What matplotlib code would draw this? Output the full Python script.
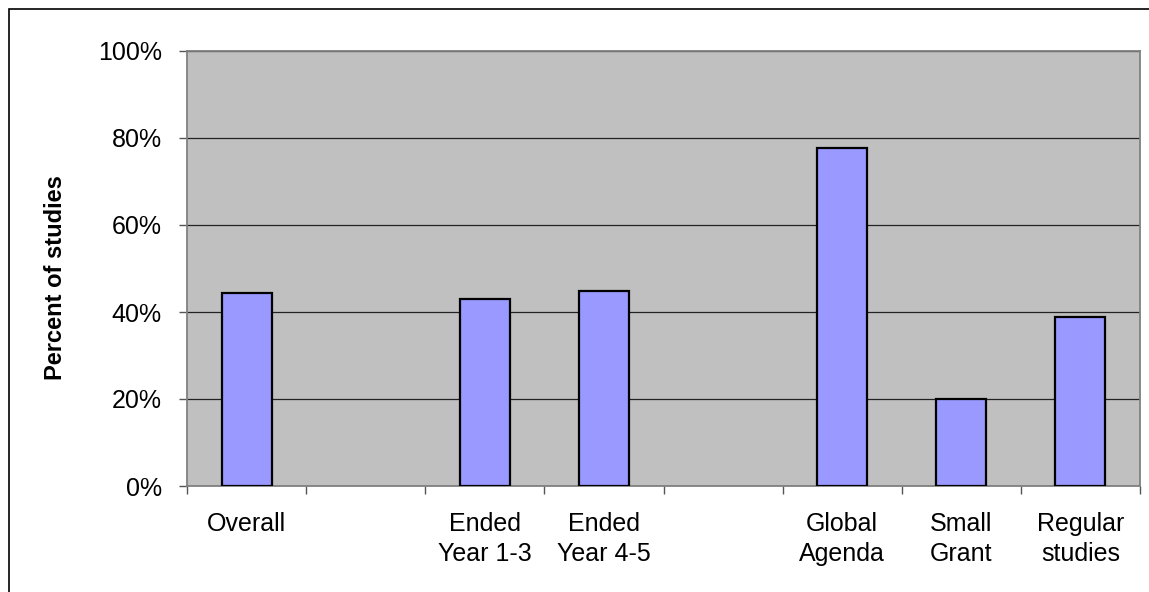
import matplotlib.pyplot as plt
import numpy as np
from matplotlib.patches import Rectangle
from matplotlib.ticker import FixedLocator, PercentFormatter

# categories (two empty slots act as spacers between groups)
categories = ['Overall', '', 'Ended\nYear 1-3', 'Ended\nYear 4-5', '',
              'Global\nAgenda', 'Small\nGrant', 'Regular\nstudies']
# percent of studies, None = no bar
values = [44.3, None, 42.9, 44.8, None, 77.8, 20.0, 38.9]
yticks = [0, 20, 40, 60, 80, 100]

plt.rcParams['font.family'] = ['Liberation Sans', 'DejaVu Sans']

W, H = 1149, 592
fig = plt.figure(figsize=(W / 100, H / 100), dpi=100)
fig.patch.set_facecolor('white')

# outer chart border (only left and top visible in the reference)
fig.patches.append(Rectangle((9 / W, -0.1), 1.2, 1 - 9 / H + 0.1,
                             transform=fig.transFigure, fill=False,
                             edgecolor='black', linewidth=1.2))

ax = fig.add_axes([187 / W, (H - 486) / H, (1140 - 187) / W, (486 - 51) / H])
ax.set_facecolor('#C0C0C0')

x = np.arange(len(categories))
for xi, v in zip(x, values):
    if v is not None:
        ax.bar(xi, v, width=0.42, color='#9999FF', edgecolor='black',
               linewidth=1.6, zorder=3)

ax.set_xlim(-0.5, len(categories) - 0.5)
ax.set_ylim(0, 100)

# gridlines
ax.set_yticks(yticks)
ax.yaxis.grid(True, color='#222222', linewidth=0.9, zorder=1)
ax.set_axisbelow(True)
ax.yaxis.set_major_formatter(PercentFormatter(decimals=0))
ax.tick_params(axis='y', length=6, width=1, color='#555555', pad=12,
               labelsize=18)

ax.set_xticks(x)
ax.set_xticklabels(categories, fontsize=18, linespacing=1.3)
ax.xaxis.set_minor_locator(FixedLocator(np.arange(-0.5, len(categories), 1)))
ax.tick_params(axis='x', which='major', length=0, pad=19)
ax.tick_params(axis='x', which='minor', length=6, width=1, color='#555555')

for s in ax.spines.values():
    s.set_color('#808080')
    s.set_linewidth(1.3)

fig.text(56 / W, 1 - 278 / H, 'Percent of studies', rotation=90,
         ha='center', va='center', fontsize=17, fontweight='bold')

fig.savefig('out.png', dpi=100)
